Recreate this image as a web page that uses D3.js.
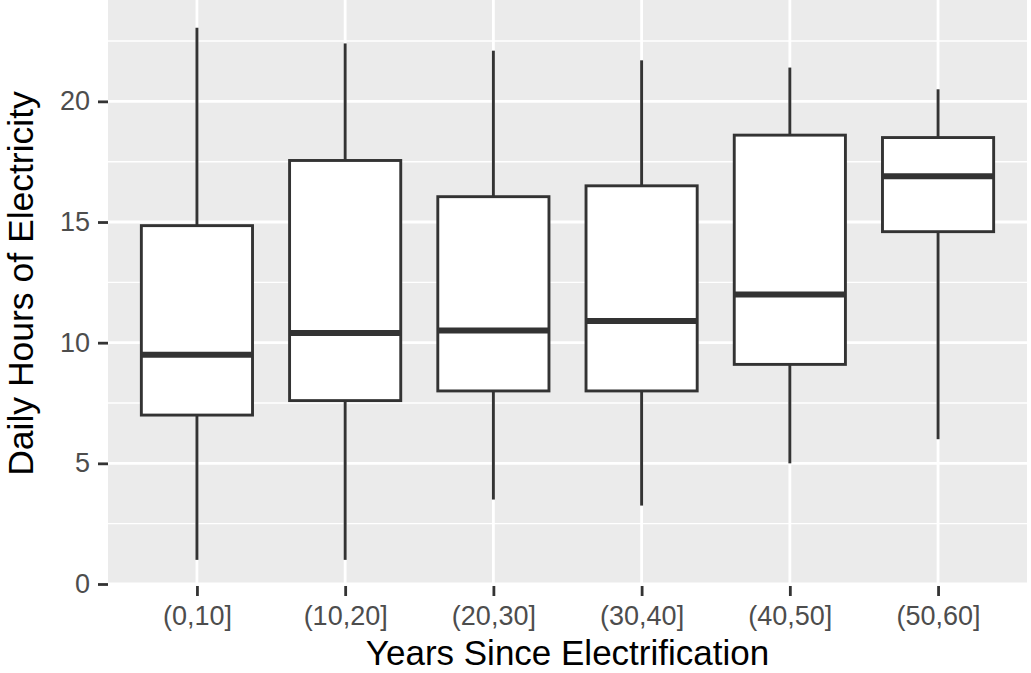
<!DOCTYPE html>
<html>
<head>
<meta charset="utf-8">
<script src="https://cdn.jsdelivr.net/npm/d3@7"></script>
<style>
  body { margin: 0; background: #fff; }
  svg { display: block; font-family: "Liberation Sans", Arial, sans-serif; }
</style>
</head>
<body>
<svg id="chart"></svg>
<script>
// Box plot: daily hours of electricity by years since electrification
const categories = ["(0,10]", "(10,20]", "(20,30]", "(30,40]", "(40,50]", "(50,60]"];
const lowerWhisker = [1.0, 1.0, 3.5, 3.25, 5.0, 6.0];
const q1 = [7.0, 7.6, 8.0, 8.0, 9.1, 14.6];
const median = [9.5, 10.4, 10.5, 10.9, 12.0, 16.9];
const q3 = [14.85, 17.55, 16.05, 16.5, 18.6, 18.5];
const upperWhisker = [23.05, 22.4, 22.1, 21.7, 21.4, 20.5];
const yTicks = [0, 5, 10, 15, 20];
const yMinorTicks = [2.5, 7.5, 12.5, 17.5, 22.5];

const width = 1031;
const height = 673;
const panel = { left: 108, right: 1027, top: 0, bottom: 585 };

const svg = d3.select("#chart")
  .attr("width", width)
  .attr("height", height);

// scales
const x = d3.scalePoint()
  .domain(categories)
  .range([panel.left, panel.right])
  .padding(0.6);

const y = d3.scaleLinear()
  .domain([0, 24.2])
  .range([584, 0]);

const boxWidth = x.step() * 0.75;

// panel background
svg.append("rect")
  .attr("x", panel.left)
  .attr("y", panel.top)
  .attr("width", panel.right - panel.left)
  .attr("height", panel.bottom - panel.top)
  .attr("fill", "#ebebeb");

// grid lines (minor first, then major)
svg.selectAll(".minor")
  .data(yMinorTicks)
  .enter().append("line")
    .attr("x1", panel.left)
    .attr("x2", panel.right)
    .attr("y1", d => y(d))
    .attr("y2", d => y(d))
    .attr("stroke", "#fff")
    .attr("stroke-width", 1.4);

svg.selectAll(".majorY")
  .data(yTicks)
  .enter().append("line")
    .attr("x1", panel.left)
    .attr("x2", panel.right)
    .attr("y1", d => y(d))
    .attr("y2", d => y(d))
    .attr("stroke", "#fff")
    .attr("stroke-width", 2.8);

svg.selectAll(".majorX")
  .data(categories)
  .enter().append("line")
    .attr("x1", d => x(d))
    .attr("x2", d => x(d))
    .attr("y1", panel.top)
    .attr("y2", panel.bottom)
    .attr("stroke", "#fff")
    .attr("stroke-width", 2.8);

// boxes
const boxes = svg.selectAll(".box")
  .data(categories)
  .enter().append("g")
    .attr("class", "box");

// whiskers
boxes.append("line")
  .attr("x1", d => x(d))
  .attr("x2", d => x(d))
  .attr("y1", (d, i) => y(q3[i]))
  .attr("y2", (d, i) => y(upperWhisker[i]))
  .attr("stroke", "#333333")
  .attr("stroke-width", 2.9);

boxes.append("line")
  .attr("x1", d => x(d))
  .attr("x2", d => x(d))
  .attr("y1", (d, i) => y(q1[i]))
  .attr("y2", (d, i) => y(lowerWhisker[i]))
  .attr("stroke", "#333333")
  .attr("stroke-width", 2.9);

boxes.append("rect")
  .attr("x", d => x(d) - boxWidth / 2)
  .attr("width", boxWidth)
  .attr("y", (d, i) => y(q3[i]))
  .attr("height", (d, i) => y(q1[i]) - y(q3[i]))
  .attr("fill", "#fff")
  .attr("stroke", "#333333")
  .attr("stroke-width", 2.9);

// median
boxes.append("line")
  .attr("x1", d => x(d) - boxWidth / 2)
  .attr("x2", d => x(d) + boxWidth / 2)
  .attr("y1", (d, i) => y(median[i]))
  .attr("y2", (d, i) => y(median[i]))
  .attr("stroke", "#333333")
  .attr("stroke-width", 6);

// axes
const yAxis = svg.append("g")
  .attr("transform", `translate(${panel.left},0)`)
  .call(d3.axisLeft(y).tickValues(yTicks).tickSize(10).tickPadding(8));

const xAxis = svg.append("g")
  .attr("transform", `translate(0,${panel.bottom + 1})`)
  .call(d3.axisBottom(x).tickSize(10).tickPadding(10));

[yAxis, xAxis].forEach(g => {
  g.select(".domain").remove();
  g.selectAll(".tick line").attr("stroke", "#333333").attr("stroke-width", 2.8);
  g.selectAll(".tick text")
    .attr("fill", "#4d4d4d")
    .style("font-size", "27px")
    .style("font-family", "'Liberation Sans', Arial, sans-serif");
});

// axis titles
svg.append("text")
  .attr("x", (panel.left + panel.right) / 2)
  .attr("y", 665)
  .attr("text-anchor", "middle")
  .attr("fill", "#000")
  .style("font-size", "35px")
  .text("Years Since Electrification");

svg.append("text")
  .attr("transform", `translate(33,${(panel.top + panel.bottom) / 2 - 9}) rotate(-90)`)
  .attr("text-anchor", "middle")
  .attr("fill", "#000")
  .style("font-size", "35.5px")
  .text("Daily Hours of Electricity");
</script>
</body>
</html>
